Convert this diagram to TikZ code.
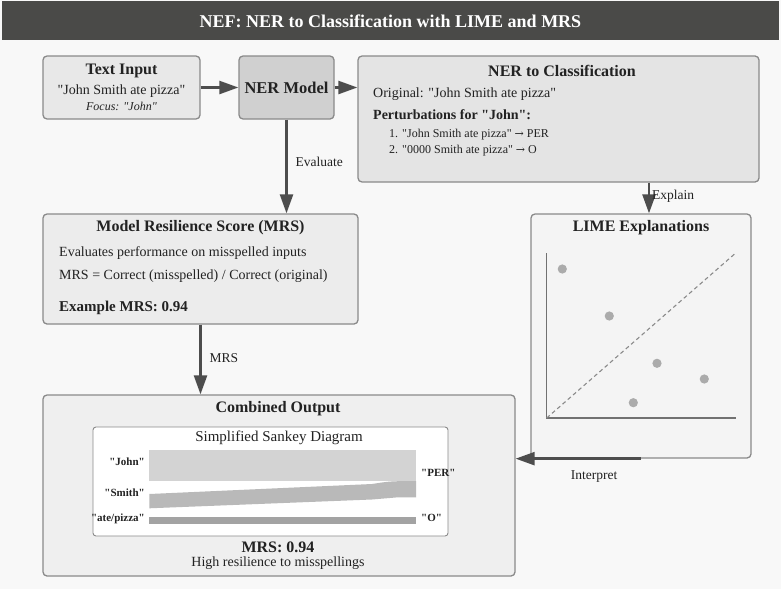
\documentclass[tikz,border=0pt]{standalone}
\usepackage{fontspec}
\setmainfont{Liberation Serif}[Ligatures=TeXOff]
\newfontfamily\arrowfont{DejaVu Serif}
\usetikzlibrary{arrows.meta,calc}

\definecolor{pagebg}{HTML}{F8F8F8}
\definecolor{barbg}{HTML}{4A4A48}
\definecolor{bordc}{HTML}{8A8A8A}
\definecolor{arrc}{HTML}{4D4D4D}
\definecolor{txtc}{HTML}{222222}
\definecolor{fillA}{HTML}{E8E8E8}
\definecolor{fillNer}{HTML}{D0D0D0}
\definecolor{fillB}{HTML}{E4E4E4}
\definecolor{fillC}{HTML}{ECECEC}
\definecolor{fillD}{HTML}{F4F4F4}
\definecolor{fillE}{HTML}{EFEFEF}
\definecolor{bandA}{HTML}{D3D3D3}
\definecolor{bandB}{HTML}{B9B9B9}
\definecolor{bandC}{HTML}{A3A3A3}
\definecolor{dotc}{HTML}{ABABAB}

\newcommand{\fs}[1]{\fontsize{#1}{#1}\selectfont}
\newcommand{\rarr}{{\arrowfont\fs{11}→}}

\tikzset{
  box/.style={draw=bordc, line width=1.3pt, rounded corners=4pt, inner sep=0pt},
  ttl/.style={text=txtc, inner sep=0pt, font=\fs{16}\bfseries},
  body/.style={text=txtc, inner sep=0pt, font=\fs{14}},
  lbl/.style={text=txtc, inner sep=0pt, font=\fs{13.5}},
  small/.style={text=txtc, inner sep=0pt, font=\fs{12}},
  sk/.style={text=txtc, inner sep=0pt, font=\fs{11}\bfseries},
  arr/.style={draw=arrc, line width=2.4pt, -{Triangle[length=19pt,width=13pt]}},
}

\begin{document}
\begin{tikzpicture}[x=1pt, y=-1pt]
  % page
  \fill[pagebg] (0,0) rectangle (781,589);
  \useasboundingbox (0,0) rectangle (781,589);

  % title bar
  \fill[barbg] (2,1) rectangle (779,40);
  \node[inner sep=0pt, text=white, font=\fs{18}\bfseries] (title) at (390.5,21)
    {NEF: NER to Classification with LIME and MRS};

  % ---- boxes ----
  \node[box, fill=fillA, minimum width=157pt, minimum height=63pt] (ti) at (121.5,87.5) {};
  \node[box, fill=fillNer, minimum width=95pt, minimum height=63pt] (ner) at (286.5,87.5) {};
  \node[box, fill=fillB, minimum width=401pt, minimum height=126pt] (nerc) at (558.5,119) {};
  \node[box, fill=fillC, minimum width=315pt, minimum height=110pt] (mrs) at (200.5,269) {};
  \node[box, fill=fillD, minimum width=220pt, minimum height=244pt] (lime) at (641,336) {};
  \node[box, fill=fillE, minimum width=472pt, minimum height=181pt] (comb) at (279,485.5) {};
  \node[draw=bordc, line width=0.9pt, rounded corners=3pt, fill=white,
        minimum width=355pt, minimum height=109pt] (sank) at (270.5,481.5) {};

  % ---- text input ----
  \node[ttl] (tiT) at (121.5,71) {Text Input};
  \node[body] (tiS) at (121.5,91.5) {"John Smith ate pizza"};
  \node[small, font=\fs{12}\itshape] (tiF) at (121.5,106.5) {Focus: "John"};

  % ---- NER model ----
  \node[ttl, font=\fs{16.5}\bfseries] (nerT) at (286.5,87.5) {NER Model};

  % ---- NER to classification ----
  \node[ttl] (nercT) at (562,71) {NER to Classification};
  \node[body, anchor=west] (nercO) at (373,94.5) {Original: "John Smith ate pizza"};
  \node[body, font=\fs{14}\bfseries, anchor=west] (nercP) at (373,114.5) {Perturbations for "John":};
  \node[small, anchor=west] (nerc1) at (389,135) {1. "John Smith ate pizza" \rarr{} PER};
  \node[small, anchor=west] (nerc2) at (389,151) {2. "0000 Smith ate pizza" \rarr{} O};

  % ---- MRS ----
  \node[ttl] (mrsT) at (200.5,228) {Model Resilience Score (MRS)};
  \node[body, anchor=west] (mrs1) at (59,253) {Evaluates performance on misspelled inputs};
  \node[body, anchor=west] (mrs2) at (59,276) {MRS = Correct (misspelled) / Correct (original)};
  \node[body, font=\fs{15}\bfseries, anchor=west] (mrs3) at (59,307.5) {Example MRS: 0.94};

  % ---- LIME plot ----
  \node[ttl] (limeT) at (641,228) {LIME Explanations};
  \coordinate (org) at (546.7,418);
  \draw[draw=arrc!80, line width=1.4pt] (546.7,253) -- (org) -- (735.7,418);
  \draw[draw=bordc, line width=1.1pt, dash pattern=on 4pt off 3pt] (org) -- (735.7,253);
  \foreach \px/\py in {562.3/269, 609.3/316, 657/363.3, 704.3/379, 633.3/402.7}
    \fill[dotc] (\px,\py) circle (4.6pt);

  % ---- combined output ----
  \node[ttl] (combT) at (278,409) {Combined Output};
  \node[inner sep=0pt, text=txtc, font=\fs{15}] (sankT) at (279,437.5) {Simplified Sankey Diagram};

  % sankey flows
  \fill[bandA] (149.3,450) rectangle (416,481);
  \fill[bandB] (149.3,494) -- (372,484) .. controls (388,481.5) .. (404,481) -- (416,481)
       -- (416,497.3) -- (398,497.3) .. controls (385,498) .. (372,499.5) -- (149.3,508.3) -- cycle;
  \fill[bandC] (149.3,517) rectangle (416,524.3);

  \node[sk, anchor=east] (skJ) at (145,462) {"John"};
  \node[sk, anchor=east] (skS) at (145,493) {"Smith"};
  \node[sk, anchor=east] (skA) at (145,518.5) {"ate/pizza"};
  \node[sk, anchor=west] (skP) at (421,473) {"PER"};
  \node[sk, anchor=west] (skO) at (421,518) {"O"};

  \node[ttl] (combM) at (278,547) {MRS: 0.94};
  \node[body] (combH) at (278,563) {High resilience to misspellings};

  % ---- connectors ----
  \draw[arr] (ti.east) -- (ner.west);
  \draw[arr] (ner.east) -- (ner.east -| nerc.west);
  \draw[arr] (ner.south) -- (ner.south |- mrs.north)
    node[lbl, pos=0.45, anchor=west, xshift=8pt] (evalL) {Evaluate};
  \coordinate (exTop) at ([xshift=8pt]lime.north |- nerc.south);
  \draw[arr] (exTop) -- ([xshift=8pt]lime.north)
    node[lbl, pos=0.45, anchor=west, xshift=2pt] (explL) {Explain};
  \draw[arr] (mrs.south) -- (mrs.south |- comb.north)
    node[lbl, pos=0.48, anchor=west, xshift=8pt] (mrsL) {MRS};
  \draw[arr] (lime.south) -- (lime.south -| comb.east);
  \node[lbl] (intL) at (594,476.5) {Interpret};
\end{tikzpicture}
\end{document}
